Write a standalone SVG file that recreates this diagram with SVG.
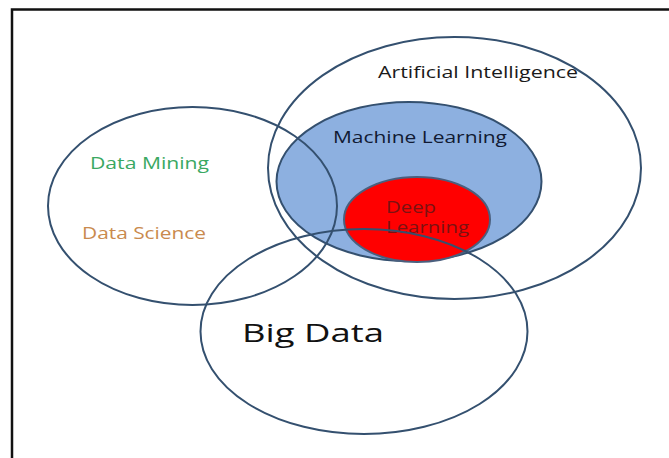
<svg xmlns="http://www.w3.org/2000/svg" width="669" height="458" viewBox="0 0 669 458">
  <style>
    .ring { fill: none; stroke: #34506f; stroke-width: 2; }
    .lbl { font-family: "Open Sans", "Noto Sans", "DejaVu Sans", sans-serif; }
  </style>
  <rect width="669" height="458" fill="#ffffff"/>
  <!-- frame: top and left edges -->
  <path d="M12 458 V9.5 H669" fill="none" stroke="#111111" stroke-width="2.5"/>

  <g id="artificial-intelligence">
    <ellipse class="ring" cx="454.5" cy="168" rx="186.5" ry="131"/>
  </g>
  <g id="machine-learning">
    <ellipse cx="409" cy="181.5" rx="132.5" ry="79.5" fill="#8db0e0" stroke="#34506f" stroke-width="2"/>
  </g>
  <g id="deep-learning">
    <ellipse cx="417" cy="219.5" rx="73" ry="42.5" fill="#ff0000" stroke="#4a5f7e" stroke-width="2"/>
    <text class="lbl" x="386" y="212.5" font-size="15.5" fill="#7a1212" textLength="50" lengthAdjust="spacingAndGlyphs">Deep</text>
    <text class="lbl" x="386" y="233" font-size="15.5" fill="#7a1212" textLength="83" lengthAdjust="spacingAndGlyphs">Learning</text>
  </g>
  <g id="data-science">
    <ellipse class="ring" cx="192.5" cy="206" rx="144.5" ry="99"/>
    <text class="lbl" x="90" y="169" font-size="16" fill="#3aa862" textLength="119" lengthAdjust="spacingAndGlyphs">Data Mining</text>
    <text class="lbl" x="82" y="239" font-size="16" fill="#c98a4e" textLength="124" lengthAdjust="spacingAndGlyphs">Data Science</text>
  </g>
  <g id="big-data">
    <ellipse class="ring" cx="364" cy="331.5" rx="163.5" ry="102.5"/>
    <text class="lbl" x="242" y="341.5" font-size="25" fill="#111111" textLength="142" lengthAdjust="spacingAndGlyphs">Big Data</text>
  </g>
  <g id="labels">
    <text class="lbl" x="378" y="78" font-size="16" fill="#1a1a1a" textLength="200" lengthAdjust="spacingAndGlyphs">Artificial Intelligence</text>
    <text class="lbl" x="333" y="143" font-size="16" fill="#111a33" textLength="174" lengthAdjust="spacingAndGlyphs">Machine Learning</text>
  </g>
</svg>
